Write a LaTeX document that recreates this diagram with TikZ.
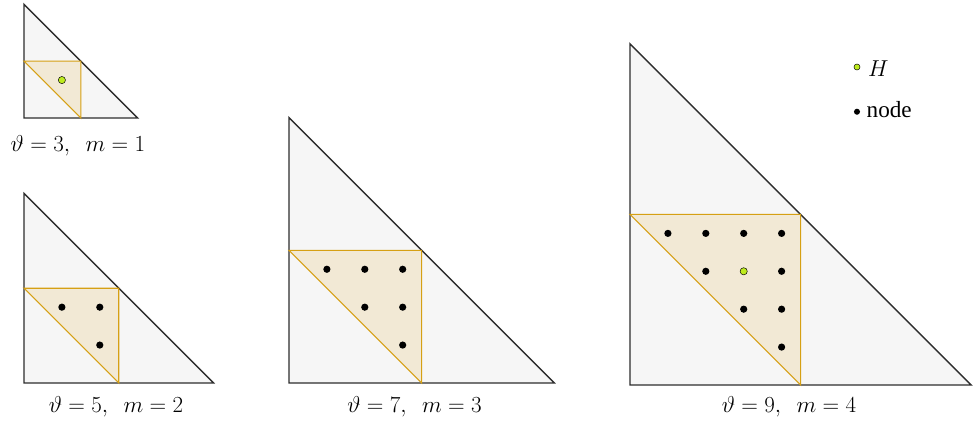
\documentclass[tikz,border=0pt]{standalone}
\usepackage{fontspec}
\setmainfont{Liberation Serif}
\usetikzlibrary{positioning}
\definecolor{outercol}{RGB}{246, 246, 246}
\definecolor{innercol}{RGB}{242, 233, 213}
\definecolor{edgecol}{RGB}{45, 45, 45}
\definecolor{goldcol}{RGB}{214, 160, 20}
\definecolor{hcol}{RGB}{190, 235, 30}
\tikzset{
  outer/.style  = {draw=edgecol, fill=outercol, line width=1.05pt, line join=miter},
  inner/.style  = {draw=goldcol, fill=innercol, line width=0.8pt},
  pt/.style     = {circle, fill=black, inner sep=0pt, minimum size=1.9mm},
  hpt/.style    = {pt, fill=hcol, draw=black, line width=0.35pt},
  keypt/.style  = {circle, fill=black, inner sep=0pt, minimum size=1.6mm},
  hkeypt/.style = {keypt, fill=hcol, draw=black, line width=0.35pt},
  caption/.style = {anchor=base, inner sep=0pt},
  keytxt/.style = {anchor=base west, inner sep=0pt},
}

\begin{document}
\begin{tikzpicture}[font=\fontsize{17.4}{20}\selectfont]

  \useasboundingbox (0,0) rectangle (25.805,11.108);

  %% ---------------- triangles, one per theta ----------------
  \foreach \t/\m/\px/\py/\cx/\cy in {
      3/1/0.633/7.995/2.058/7.12,
      5/2/0.633/1.003/3.061/0.237,
      7/3/7.625/1.003/10.937/0.237,
      9/4/16.623/0.950/20.818/0.237} {
    \begin{scope}[shift={(\px,\py)}]
      \pgfmathsetmacro\h{\t/2}
      \draw[outer] (0,0) -- (\t,0) -- (0,\t) -- cycle;
      \draw[inner] (0,\h) -- (\h,\h) -- (\h,0) -- cycle;
      % nodes on the grid inside the small triangle; H sits on its centroid
      \foreach \i in {1,...,\m} {
        \foreach \j in {1,...,\m} {
          \pgfmathtruncatemacro\s{\i+\j}
          \pgfmathtruncatemacro\c{3*\i}
          \ifnum\s>\m
            \ifnum\i=\j \ifnum\c=\t
              \node[hpt] (pt-\t-\i-\j) at (\i,\j) {};
            \else
              \node[pt] (pt-\t-\i-\j) at (\i,\j) {};
            \fi \else
              \node[pt] (pt-\t-\i-\j) at (\i,\j) {};
            \fi
          \fi
        }
      }
    \end{scope}
    \node[caption] (cap-\t) at (\cx,\cy) {$\vartheta=\t,\ \ m=\m$};
  }

  %% ---------------- legend ----------------
  \node[hkeypt] (key-h) at (22.612,9.340) {};
  \node[keytxt] (key-h-txt) at (22.90,9.077) {$H$};
  \node[keypt] (key-n) at (22.612,8.160) {};
  \node[keytxt] (key-n-txt) at (22.86,8.020) {node};

\end{tikzpicture}
\end{document}
